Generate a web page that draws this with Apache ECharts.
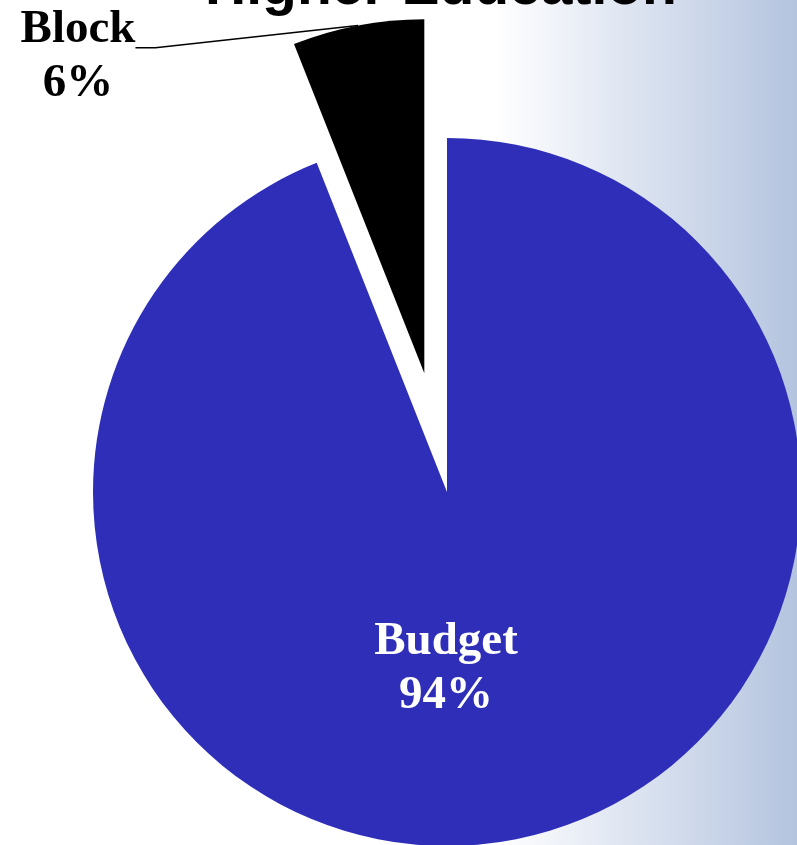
<!DOCTYPE html>
<html>
<head>
<meta charset="utf-8">
<script src="https://cdn.jsdelivr.net/npm/echarts@6/dist/echarts.min.js"></script>
<style>
  html, body { margin: 0; padding: 0; }
  #chart { width: 797px; height: 845px; }
</style>
</head>
<body>
<div id="chart"></div>
<script>
    // data
    var categories = ['Budget', 'Block'];
    var shares = [94, 6];
    var sliceColors = ['#2e2eb8', '#000000'];
    var labelColors = ['#ffffff', '#000000'];
    var titleText = 'Higher Education';

    var pieCenter = [447, 492];
    var pieRadius = 354;
    var pullOut = 121; // how far the Block slice is pulled out

    var labelSpots = [
        { x: 446, y: 669 },
        { x: 78, y: 42 }
    ];

    var serifBold = {
        fontFamily: 'Liberation Serif',
        fontWeight: 'bold',
        fontSize: 47,
        color: '#000'
    };

    // one pie series per slice, the other slice left transparent,
    // so the pulled-out slice can get its own centre
    function sliceSeries(idx, center) {
        return {
            type: 'pie',
            center: center,
            radius: [0, pieRadius],
            startAngle: 90,
            clockwise: true,
            silent: true,
            emphasis: { disabled: true },
            label: {
                show: true,
                formatter: '{b}\n{d}%',
                fontFamily: serifBold.fontFamily,
                fontWeight: serifBold.fontWeight,
                fontSize: serifBold.fontSize,
                lineHeight: 54,
                align: 'center'
            },
            labelLine: {
                show: true,
                length: 10,
                length2: 20,
                lineStyle: { color: '#000', width: 1.5 }
            },
            labelLayout: function(params) {
                var spot = labelSpots[params.dataIndex];
                return { x: spot.x, y: spot.y, align: 'center', verticalAlign: 'middle' };
            },
            data: categories.map(function(name, i) {
                var on = i === idx;
                var lbl = {
                    show: on,
                    position: i === 1 ? 'outside' : 'inside',
                    color: labelColors[i]
                };
                if (i === 1) {
                    // uneven line heights so the leader line leaves near the first line
                    lbl.formatter = '{n|{b}}\n{p|{d}%}';
                    lbl.rich = {
                        n: Object.assign({ lineHeight: 84, align: 'center' }, serifBold),
                        p: Object.assign({ lineHeight: 24, align: 'center' }, serifBold)
                    };
                }
                return {
                    name: name,
                    value: shares[i],
                    itemStyle: { color: on ? sliceColors[i] : 'rgba(0,0,0,0)' },
                    label: lbl,
                    labelLine: { show: on && i === 1 }
                };
            })
        };
    }

    // mid angle of the Block slice, measured from the top, counter-clockwise
    var blockMid = (shares[1] / (shares[0] + shares[1])) * Math.PI;
    var blockCenter = [
        pieCenter[0] - pullOut * Math.sin(blockMid),
        pieCenter[1] - pullOut * Math.cos(blockMid)
    ];

    var myChart = echarts.init(document.getElementById('chart'));
    var option = {
        animation: false,
        backgroundColor: {
            type: 'linear', x: 0, y: 0, x2: 1, y2: 0,
            colorStops: [
                { offset: 0, color: '#ffffff' },
                { offset: 0.62, color: '#ffffff' },
                { offset: 1, color: '#b4c4df' }
            ]
        },
        title: {
            text: titleText,
            left: 441,
            top: -40,
            padding: 0,
            textAlign: 'center',
            textStyle: {
                fontFamily: 'Liberation Sans',
                fontWeight: 'bold',
                fontSize: 57,
                color: '#000'
            }
        },
        series: [
            sliceSeries(0, pieCenter),
            sliceSeries(1, blockCenter)
        ]
    };
    myChart.setOption(option);
</script>
</body>
</html>
